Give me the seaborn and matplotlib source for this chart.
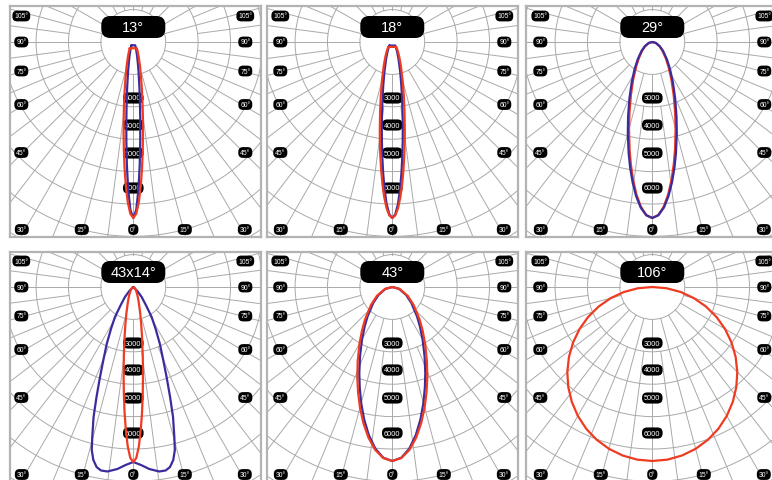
import numpy as np
import matplotlib
matplotlib.use("Agg")
import matplotlib.pyplot as plt
import seaborn as sns
from matplotlib.patches import Circle, FancyBboxPatch

# ---------------- data ----------------
titles = ["13°", "18°", "29°", "43x14°", "43°", "106°"]
ring_labels = ["3000", "4000", "5000", "6000"]
side_labels = ["105°", "90°", "75°", "60°", "45°"]
bottom_labels = ["30°", "15°", "0°", "15°", "30°"]

# half-angle (deg from nadir) and relative intensity (one ring = 32.4 units)
ang_13 = [0, 1, 2, 3, 4, 5, 6, 7, 8, 10, 12, 15, 20, 25, 30]
red_13 = [176, 171.7, 160.0, 143.7, 125.8, 108.4, 92.7, 79.1, 67.7, 50.2, 38.1, 26.4, 15.7, 10.3, 7.2]
blue_13 = [176, 167.9, 147.7, 122.9, 99.5, 80.0, 64.5, 52.4, 43.1, 30.2, 22.1, 14.8, 8.5, 5.5, 3.8]

ang_18 = [0, 1, 2, 3, 4, 5, 6, 7, 8, 10, 12, 15, 20, 25, 30, 40]
red_18 = [176, 173.4, 166.1, 155.1, 142.0, 128.1, 114.4, 101.5, 89.8, 70.3, 55.5, 40.0, 24.8, 16.5, 11.6, 6.4]
blue_18 = [176, 172.3, 162.2, 147.7, 131.3, 114.9, 99.7, 86.1, 74.4, 56.1, 43.1, 30.2, 18.2, 11.9, 8.3, 4.6]

ang_29 = [0, 2, 4, 6, 8, 10, 12, 15, 18, 22, 27, 33, 40, 50, 60, 75, 90]
red_29 = [176, 173.1, 164.9, 152.9, 138.7, 123.8, 109.4, 90.0, 73.8, 57.0, 42.0, 29.9, 20.8, 12.9, 8.0, 3.4, 0]
blue_29 = [176, 173.4, 166.0, 154.9, 141.6, 127.6, 113.7, 94.6, 78.3, 61.1, 45.4, 32.6, 22.8, 14.2, 8.9, 3.8, 0]

ang_43x14_red = [0, 1, 2, 3, 4, 5, 6, 7, 8, 10, 12, 15, 20, 25, 30, 40, 60]
red_43x14 = [175, 171, 159.5, 143, 125.5, 108, 92.5, 79, 67.5, 50, 38, 26.3, 15.6, 10.3, 7.1, 3.9, 1.4]
ang_43x14_blue = [0, 2.5, 5, 8, 10, 11.5, 13, 14.3, 15.3, 17, 18.5, 20.3, 22.3, 25, 28, 31.5, 34.5, 40, 45, 60]
blue_43x14 = [175, 178.2, 182.7, 186.3, 186.3, 183.8, 177.6, 168.2, 155.5, 135.9, 115.9, 96.0, 78.9,
              62.9, 47.6, 35.1, 23.0, 13.0, 5.7, 0]

ang_43 = [0, 3, 6, 9, 12, 15, 18, 21, 25, 30, 35, 40, 50, 60, 75, 90]
red_43 = [174, 171.3, 163.8, 152.5, 139.1, 124.8, 110.7, 97.6, 81.9, 65.7, 52.7, 42.5, 27.7, 17.8, 7.7, 0]
blue_43 = [174, 171.0, 162.5, 150.0, 135.4, 120.2, 105.5, 92.1, 76.4, 60.6, 48.2, 38.5, 24.9, 15.9, 6.9, 0]

ang_106 = [0, 5, 10, 15, 20, 25, 30, 35, 40, 45, 50, 55, 60, 65, 70, 75, 80, 85, 90]
red_106 = [174, 173.3, 171.1, 167.5, 162.6, 156.4, 148.9, 140.3, 130.7, 120.2, 108.8, 96.7, 84.0,
           70.8, 57.1, 43.1, 28.9, 14.5, 0]

panels = [
    [(ang_13, blue_13, "blue"), (ang_13, red_13, "red")],
    [(ang_18, blue_18, "blue"), (ang_18, red_18, "red")],
    [(ang_29, red_29, "red"), (ang_29, blue_29, "blue")],
    [(ang_43x14_blue, blue_43x14, "blue"), (ang_43x14_red, red_43x14, "red")],
    [(ang_43, blue_43, "blue"), (ang_43, red_43, "red")],
    [(ang_106, red_106, "red")],
]

# ---------------- style / layout ----------------
COLORS = {"red": "#ef3b22", "blue": "#3a2c9c"}
GRID = "#a9a9a9"
BORDER = "#b3b3b3"
RING = 32.4
FW, FH = 772, 481
col_left = [10, 267, 526]
col_cx = [133.3, 392.3, 652.3]
row_top = [7, 253]
row_cy = [43, 288]
PW, PH = 251, 231
ring_label_y = [56, 83, 111, 146]
side_y = [-26, 0, 29, 62.5, 110.5]
side_x = 112
bottom_y = 187.5
bottom_x = [-111.5, -51.5, 0, 51.5, 111.5]

sns.set_theme(style="white")
plt.rcParams["font.family"] = ["Liberation Sans", "DejaVu Sans"]

fig = plt.figure(figsize=(FW / 100, FH / 100), dpi=100)
fig.patch.set_facecolor("white")


def loop_xy(ang, val):
    a = np.deg2rad(np.asarray(ang, float))
    v = np.asarray(val, float)
    fa = np.concatenate([-a[::-1], a[1:]])
    fv = np.concatenate([v[::-1], v[1:]])
    x = fv * np.sin(fa)
    y = fv * np.cos(fa)
    return np.append(x, x[0]), np.append(y, y[0])


pill_small = dict(boxstyle="round,pad=0.28,rounding_size=0.7", fc="black", ec="none")

for i, curves in enumerate(panels):
    r, c = divmod(i, 3)
    L, T, cx, cy = col_left[c], row_top[r], col_cx[c], row_cy[r]
    ax = fig.add_axes([L / FW, 1 - (T + PH) / FH, PW / FW, PH / FH])
    ax.set_facecolor("white")

    # grid: rings and spokes (15° spokes from inner ring, 7.5° offsets from 2nd ring)
    for k in range(1, 10):
        ax.add_patch(Circle((0, 0), RING * k, fill=False, ec=GRID, lw=0.7, zorder=1))
    for j, d in enumerate(np.arange(0, 360, 7.5)):
        t = np.deg2rad(d)
        r0 = RING if j % 2 == 0 else 2 * RING
        ax.plot([r0 * np.sin(t), 400 * np.sin(t)], [r0 * np.cos(t), 400 * np.cos(t)],
                color=GRID, lw=0.7, zorder=1)

    # angle labels
    for s, yy in zip(side_labels, side_y):
        for xx in (-side_x, side_x):
            ax.text(xx, yy, s, ha="center", va="center", fontsize=4.9, color="white",
                    bbox=pill_small, zorder=3)
    for s, xx in zip(bottom_labels, bottom_x):
        ax.text(xx, bottom_y, s, ha="center", va="center", fontsize=4.9, color="white",
                bbox=pill_small, zorder=3)
    # ring labels
    for s, yy in zip(ring_labels, ring_label_y):
        ax.text(0, yy, s, ha="center", va="center", fontsize=5.3, color="white",
                bbox=pill_small, zorder=3)

    # curves
    for ang, val, key in curves:
        x, y = loop_xy(ang, val)
        sns.lineplot(x=x, y=y, sort=False, estimator=None, color=COLORS[key], lw=1.6,
                     ax=ax, zorder=4)

    # title pill
    ax.add_patch(FancyBboxPatch((-32, -26), 64, 22,
                                boxstyle="round,pad=0,rounding_size=9",
                                fc="black", ec="none", zorder=5))
    ax.text(0, -15, titles[i], ha="center", va="center", fontsize=10.5, color="white", zorder=6)

    ax.set_xlim(L - cx, L + PW - cx)
    ax.set_ylim(T + PH - cy, T - cy)
    ax.set_xticks([])
    ax.set_yticks([])
    ax.set_xlabel("")
    ax.set_ylabel("")
    for sp in ax.spines.values():
        sp.set_visible(True)
        sp.set_color(BORDER)
        sp.set_linewidth(1.6)

fig.savefig("out.png", dpi=100, facecolor="white")
